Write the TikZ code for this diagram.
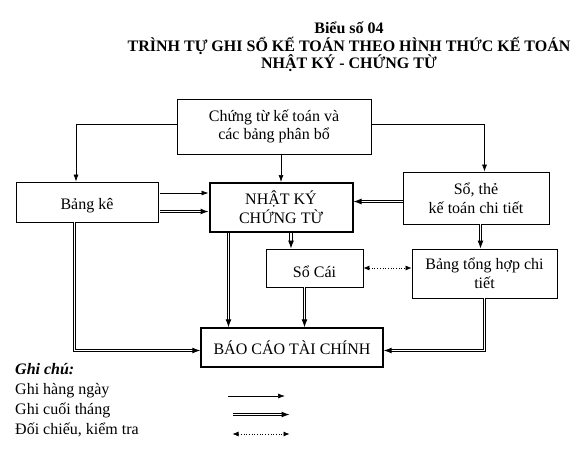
\documentclass[tikz,border=0pt]{standalone}
\usepackage{fontspec}
\setmainfont{Liberation Serif}
\usepackage{tikz}
\usetikzlibrary{arrows.meta,positioning}
\tikzstyle{line} = [draw, line width=0.7pt, -{Latex[length=7pt,width=5pt]}]
\tikzstyle{dline} = [draw, double, line width=1pt, double distance=1.4pt, -{Latex[length=8pt,width=6pt]}]
\tikzstyle{dotline} = [draw, dotted, line width=0.7pt, {Latex[length=6pt,width=5pt]}-{Latex[length=6pt,width=5pt]}]
\tikzstyle{box} = [draw, rectangle, align=center, inner sep=0pt, line width=0.8pt, font=\fontsize{16}{18.6}\selectfont]
\tikzstyle{txt} = [anchor=west, inner sep=0pt, font=\fontsize{16}{18.6}\selectfont]

\begin{document}
\begin{tikzpicture}[x=1pt,y=-1pt]
		\useasboundingbox (0,0) rectangle (575,452);
		
		\node[align=center, font=\fontsize{16}{17.5}\selectfont\bfseries] (title) at (349,47) {Biểu số 04\\TRÌNH TỰ GHI SỔ KẾ TOÁN THEO HÌNH THỨC KẾ TOÁN\\NHẬT KÝ - CHỨNG TỪ}; % title
		
		% boxes
		\node[box, minimum width=194pt, minimum height=55pt] (ct) at (274,126.5) {Chứng từ kế toán và\\các bảng phân bổ};
		\node[box, minimum width=142pt, minimum height=40pt] (bk) at (87,202) {\raisebox{-4pt}[\height][\depth]{Bảng kê}};
		\node[box, minimum width=143pt, minimum height=49pt, line width=2pt] (nk) at (281,207.5) {NHẬT KÝ\\CHỨNG TỪ};
		\node[box, minimum width=146pt, minimum height=52pt] (st) at (476,198) {Sổ, thẻ\\kế toán chi tiết};
		\node[box, minimum width=97pt, minimum height=38pt] (sc) at (314.5,268) {\raisebox{-4pt}[\height][\depth]{Sổ Cái}};
		\node[box, minimum width=145pt, minimum height=49pt] (bth) at (484.5,273.5) {Bảng tổng hợp chi\\tiết};
		\node[box, minimum width=182pt, minimum height=39pt, line width=1.4pt] (bctc) at (292,347.5) {BÁO CÁO TÀI CHÍNH};
		
		% ghi hang ngay
		\draw[line] ([yshift=2.5pt]ct.west) -| ([xshift=-11pt]bk.north); %left
		\draw[line] ([yshift=2.5pt]ct.east) -| ([xshift=8.5pt]st.north); %right
		\draw[line] (nk.north |- ct.south) -- (nk.north); %middle
		\draw[line, shorten <=2pt] ([yshift=9pt]bk.east) coordinate (bk1) -- (bk1 -| nk.west);
		
		% ghi cuoi thang
		\draw[dline, shorten <=2pt] ([yshift=-9.5pt]bk.east) coordinate (bk2) -- (bk2 -| nk.west);
		\draw[dline] ([yshift=-3.5pt]st.west) coordinate (st1) -- (st1 -| nk.east);
		\draw[dline] ([xshift=10pt]nk.south) coordinate (nk1) -- (nk1 |- sc.north);
		\draw[dline] ([xshift=4.5pt]st.south) coordinate (st2) -- (st2 |- bth.north);
		\draw[dline] ([xshift=-12.5pt]bk.south) |- ([yshift=-3pt]bctc.west); %left down
		\draw[dline] ([xshift=-52.5pt]nk.south) coordinate (nk2) -- (nk2 |- bctc.north);
		\draw[dline] ([xshift=-10pt]sc.south) coordinate (sc1) -- (sc1 |- bctc.north);
		\draw[dline] (bth.south) |- ([yshift=-3pt]bctc.east); %right down
		
		% doi chieu
		\draw[dotline] (sc.east) -- (sc.east -| bth.west);
		
		% legend
		\node[txt, font=\fontsize{16}{18.6}\selectfont\bfseries\itshape] (gc) at (15,369) {Ghi chú:};
		\node[txt] (g1) at (15,391) {Ghi hàng ngày};
		\node[txt] (g2) at (15,410) {Ghi cuối tháng};
		\node[txt] (g3) at (15,430) {Đối chiếu, kiểm tra};
		\coordinate (g1a) at (228,396); \coordinate (g1b) at (285,396);
		\coordinate (g2a) at (232.5,414.5); \coordinate (g2b) at (289.5,414.5);
		\coordinate (g3a) at (232.5,434); \coordinate (g3b) at (289.5,434);
		\draw[line] (g1a) -- (g1b);
		\draw[dline] (g2a) -- (g2b);
		\draw[dotline] (g3a) -- (g3b);
		
\end{tikzpicture}
\end{document}
